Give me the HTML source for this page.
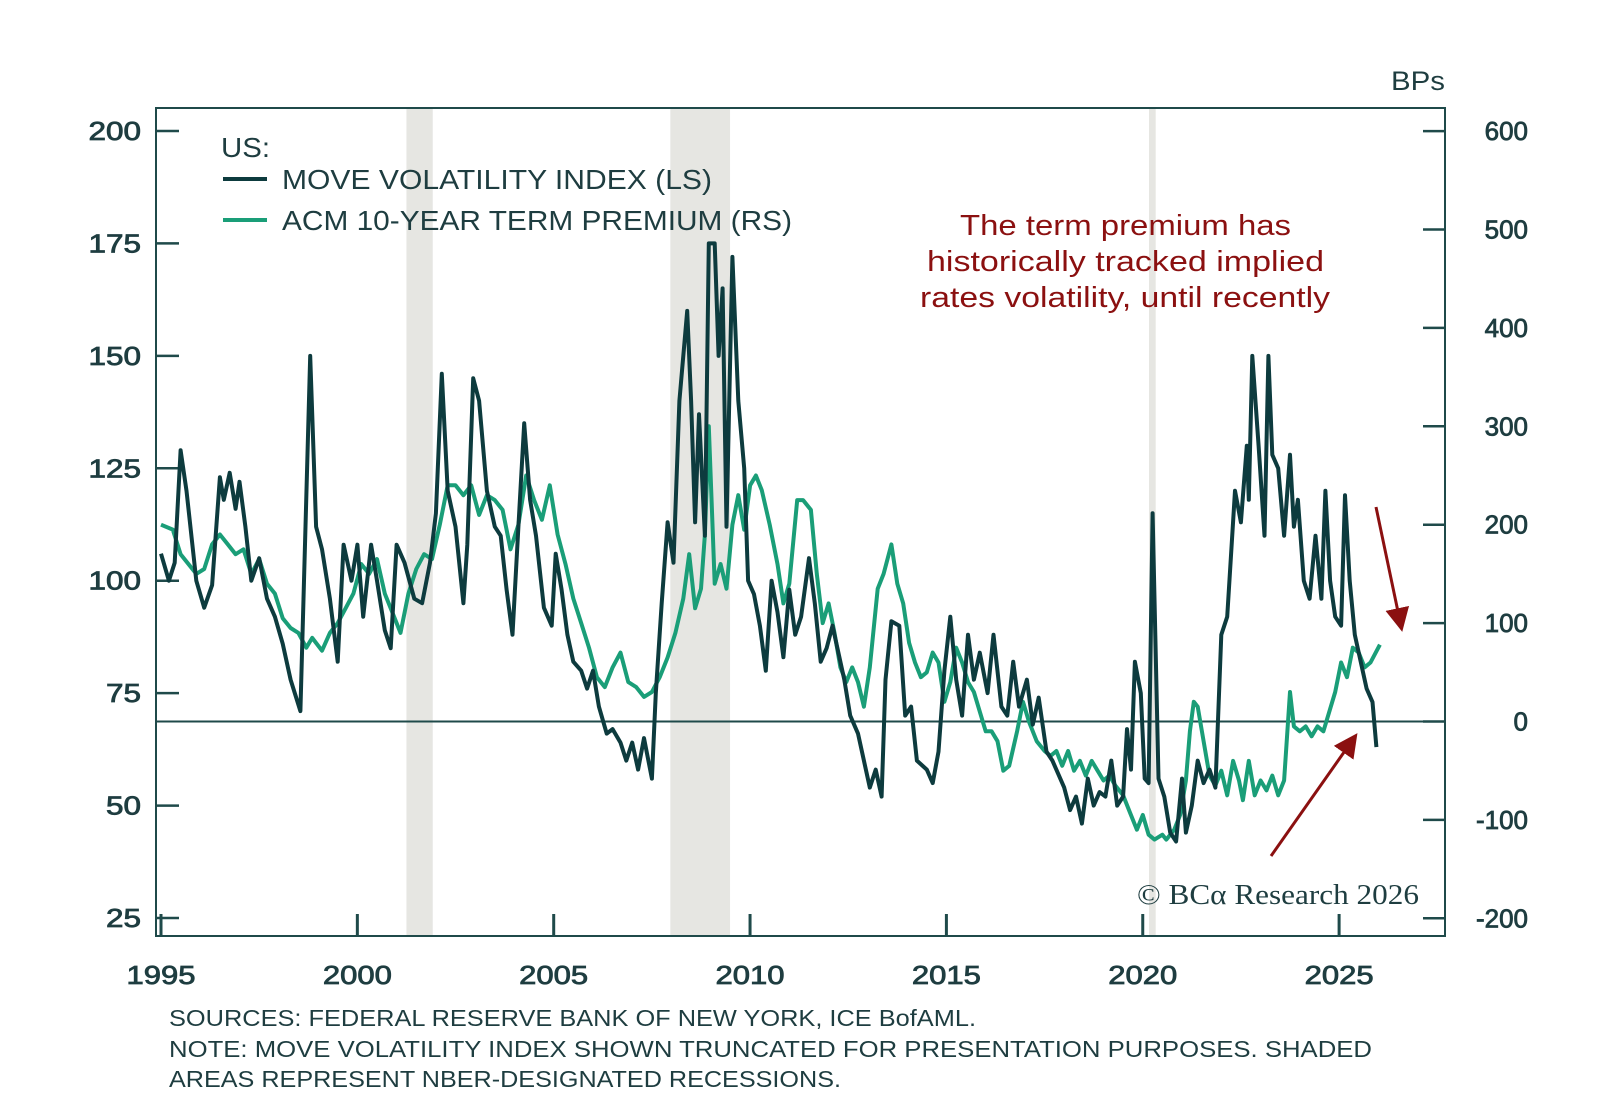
<!DOCTYPE html>
<html><head><meta charset="utf-8">
<style>
html,body{margin:0;padding:0;background:#fff;}
svg{display:block;font-family:"Liberation Sans",sans-serif;}
</style></head>
<body>
<svg id="chart" width="1600" height="1107" viewBox="0 0 1600 1107">
<g id="shade"></g>
<rect x="156" y="108" width="1289" height="828" fill="none" stroke="#1f4a4a" stroke-width="2"/>
<g id="axes"></g>
<g id="series"></g>
<text x="1391" y="90" font-size="27" fill="#1e3d40" textLength="54" lengthAdjust="spacingAndGlyphs">BPs</text>
<g font-size="28" fill="#1e3d40">
<text x="221" y="157" textLength="49" lengthAdjust="spacingAndGlyphs">US:</text>
<line x1="223" y1="179" x2="267" y2="179" stroke="#0d3b3e" stroke-width="4"/>
<text x="282" y="189" textLength="430" lengthAdjust="spacingAndGlyphs">MOVE VOLATILITY INDEX (LS)</text>
<line x1="223" y1="220" x2="267" y2="220" stroke="#1a9e78" stroke-width="4"/>
<text x="282" y="230" textLength="510" lengthAdjust="spacingAndGlyphs">ACM 10-YEAR TERM PREMIUM (RS)</text>
</g>
<g fill="#8b1010" font-size="29">
<text x="960" y="235" textLength="331" lengthAdjust="spacingAndGlyphs">The term premium has</text>
<text x="927" y="271" textLength="397" lengthAdjust="spacingAndGlyphs">historically tracked implied</text>
<text x="920" y="307" textLength="410" lengthAdjust="spacingAndGlyphs">rates volatility, until recently</text>
</g>
<defs><marker id="ah" markerWidth="8" markerHeight="8" refX="6" refY="4" orient="auto" markerUnits="strokeWidth"><path d="M0,0 L8,4 L0,8 z" fill="#8b1010"/></marker></defs>
<line x1="1376" y1="507" x2="1401" y2="626" stroke="#8b1010" stroke-width="3" marker-end="url(#ah)"/>
<line x1="1271" y1="856" x2="1354" y2="738" stroke="#8b1010" stroke-width="3" marker-end="url(#ah)"/>
<text x="1137" y="904" font-size="28" fill="#1e3d40" font-family="Liberation Serif, serif" textLength="282" lengthAdjust="spacingAndGlyphs">© BCα Research 2026</text>
<g font-size="23" fill="#1e3d40">
<text x="169" y="1026" textLength="807" lengthAdjust="spacingAndGlyphs">SOURCES: FEDERAL RESERVE BANK OF NEW YORK, ICE BofAML.</text>
<text x="169" y="1057" textLength="1203" lengthAdjust="spacingAndGlyphs">NOTE: MOVE VOLATILITY INDEX SHOWN TRUNCATED FOR PRESENTATION PURPOSES. SHADED</text>
<text x="169" y="1087" textLength="672" lengthAdjust="spacingAndGlyphs">AREAS REPRESENT NBER-DESIGNATED RECESSIONS.</text>
</g>
</svg>
<script>
const xTicks=[1995,2000,2005,2010,2015,2020,2025];
const leftTicks=[200,175,150,125,100,75,50,25];
const rightTicks=[600,500,400,300,200,100,0,-100,-200];
const recStart=[2001.25,2007.97,2020.16];
const recEnd=[2001.92,2009.49,2020.33];
const moveYears=[1995.0,1995.2,1995.35,1995.5,1995.65,1995.9,1996.1,1996.3,1996.5,1996.6,1996.75,1996.9,1997.0,1997.15,1997.3,1997.5,1997.7,1997.9,1998.1,1998.3,1998.55,1998.8,1998.95,1999.1,1999.3,1999.5,1999.65,1999.85,2000.0,2000.15,2000.35,2000.5,2000.7,2000.85,2001.0,2001.2,2001.45,2001.65,2001.85,2002.0,2002.15,2002.3,2002.5,2002.7,2002.8,2002.95,2003.1,2003.3,2003.5,2003.65,2003.8,2003.95,2004.1,2004.25,2004.4,2004.55,2004.75,2004.95,2005.05,2005.2,2005.35,2005.5,2005.7,2005.85,2006.0,2006.15,2006.35,2006.5,2006.7,2006.85,2007.0,2007.15,2007.3,2007.5,2007.6,2007.75,2007.9,2008.05,2008.2,2008.4,2008.5,2008.6,2008.7,2008.85,2008.95,2009.1,2009.2,2009.3,2009.4,2009.55,2009.7,2009.85,2009.95,2010.1,2010.25,2010.4,2010.55,2010.7,2010.85,2011.0,2011.15,2011.3,2011.5,2011.65,2011.8,2011.95,2012.1,2012.25,2012.4,2012.55,2012.75,2012.9,2013.05,2013.2,2013.35,2013.45,2013.6,2013.8,2013.95,2014.1,2014.25,2014.5,2014.65,2014.8,2014.95,2015.1,2015.25,2015.4,2015.55,2015.7,2015.85,2016.05,2016.2,2016.4,2016.55,2016.7,2016.85,2017.05,2017.2,2017.35,2017.55,2017.7,2017.85,2018.0,2018.15,2018.3,2018.45,2018.6,2018.75,2018.9,2019.05,2019.2,2019.35,2019.5,2019.6,2019.7,2019.8,2019.95,2020.05,2020.15,2020.25,2020.4,2020.55,2020.7,2020.85,2021.0,2021.1,2021.25,2021.4,2021.55,2021.7,2021.85,2022.0,2022.15,2022.35,2022.5,2022.65,2022.7,2022.79,2022.95,2023.1,2023.2,2023.3,2023.45,2023.6,2023.75,2023.85,2023.95,2024.1,2024.25,2024.4,2024.55,2024.65,2024.77,2024.9,2025.05,2025.15,2025.27,2025.4,2025.55,2025.7,2025.85,2025.95,2026.04];
const moveValues=[106,100,104,129,120,100,94,99,123,118,124,116,122,112,100,105,96,92,86,78,71,150,112,107,96,82,108,100,108,92,108,100,89,85,108,104,96,95,104,115,146,120,112,95,108,145,140,120,112,110,98,88,112,135,118,110,94,90,106,98,88,82,80,76,80,72,66,67,64,60,64,58,65,56,75,95,113,104,140,160,140,113,137,110,175,175,150,165,112,172,140,125,100,97,90,80,100,93,83,98,88,92,105,95,82,85,90,84,78,70,66,60,54,58,52,78,91,90,70,72,60,58,55,62,80,92,78,70,88,78,84,75,88,72,70,82,72,78,68,74,62,60,57,54,49,52,46,56,50,53,52,60,50,52,67,58,82,75,56,55,115,56,52,44,42,56,44,50,60,55,58,54,88,92,120,113,130,118,150,130,110,150,128,125,110,128,112,118,100,96,110,96,120,100,92,90,119,100,88,82,76,73,63];
const tpYears=[1995.0,1995.3,1995.5,1995.7,1995.9,1996.1,1996.3,1996.5,1996.7,1996.9,1997.1,1997.3,1997.5,1997.7,1997.9,1998.1,1998.3,1998.5,1998.7,1998.85,1999.1,1999.3,1999.5,1999.7,1999.9,2000.1,2000.3,2000.5,2000.7,2000.9,2001.1,2001.3,2001.5,2001.7,2001.9,2002.1,2002.3,2002.5,2002.7,2002.9,2003.1,2003.3,2003.5,2003.7,2003.9,2004.1,2004.3,2004.5,2004.7,2004.9,2005.1,2005.3,2005.5,2005.7,2005.9,2006.1,2006.3,2006.5,2006.7,2006.9,2007.1,2007.3,2007.5,2007.7,2007.9,2008.1,2008.3,2008.45,2008.6,2008.75,2008.85,2008.95,2009.1,2009.25,2009.4,2009.55,2009.7,2009.85,2010.0,2010.15,2010.3,2010.5,2010.7,2010.85,2011.0,2011.2,2011.35,2011.55,2011.7,2011.85,2012.0,2012.15,2012.3,2012.45,2012.6,2012.75,2012.9,2013.05,2013.25,2013.4,2013.6,2013.75,2013.9,2014.05,2014.2,2014.35,2014.5,2014.65,2014.8,2014.95,2015.1,2015.25,2015.4,2015.55,2015.7,2015.85,2016.0,2016.15,2016.3,2016.45,2016.6,2016.8,2016.95,2017.1,2017.3,2017.5,2017.65,2017.8,2017.95,2018.1,2018.25,2018.4,2018.55,2018.7,2018.85,2019.0,2019.15,2019.3,2019.5,2019.65,2019.85,2020.0,2020.15,2020.3,2020.5,2020.6,2020.8,2020.95,2021.1,2021.2,2021.3,2021.4,2021.55,2021.7,2021.85,2022.0,2022.15,2022.3,2022.45,2022.55,2022.7,2022.85,2023.0,2023.15,2023.3,2023.45,2023.6,2023.75,2023.85,2024.0,2024.15,2024.3,2024.45,2024.6,2024.75,2024.9,2025.05,2025.2,2025.35,2025.5,2025.65,2025.8,2026.04];
const tpValues=[200,195,170,160,150,155,180,190,180,170,175,150,165,140,130,105,95,90,75,85,72,90,100,115,130,160,150,165,130,110,90,130,155,170,165,200,240,240,230,240,210,230,225,215,175,200,250,225,205,240,190,160,125,100,75,45,35,55,70,40,35,25,30,45,65,90,125,170,115,135,190,300,140,160,135,200,230,195,240,250,235,200,160,120,140,225,225,215,150,100,120,90,55,40,55,40,15,55,135,150,180,140,120,80,60,45,50,70,60,20,40,75,60,40,30,10,-10,-10,-20,-50,-45,-10,20,0,-20,-30,-35,-30,-45,-30,-50,-40,-55,-40,-50,-60,-55,-65,-75,-90,-110,-95,-115,-120,-115,-120,-110,-95,-60,-10,20,15,-20,-55,-65,-50,-75,-40,-60,-80,-40,-75,-60,-70,-55,-75,-60,30,-5,-10,-5,-15,-5,-10,10,30,60,45,75,70,55,60,78];

const NS='http://www.w3.org/2000/svg';
function xs(y){return 161+39.27*(y-1995);}
function yL(v){return 131+(200-v)*(787/175);}
function yR(v){return 721.5-v*0.984;}
function mk(tag,attrs,parent){const e=document.createElementNS(NS,tag);for(const k in attrs)e.setAttribute(k,attrs[k]);parent.appendChild(e);return e;}
const shade=document.getElementById('shade');
recStart.forEach((s,i)=>{
  const r=mk('rect',{x:xs(s),y:109,width:xs(recEnd[i])-xs(s),height:826,fill:'#e6e6e2'},shade);
  
  
});
const axes=document.getElementById('axes');
const ac='#1f4a4a', tc='#1e3d40';
leftTicks.forEach(v=>{
  const y=yL(v);
  const l=mk('line',{x1:156,y1:y,x2:179,y2:y,stroke:ac,'stroke-width':2.5},axes);
  
  
  const t=mk('text',{x:141,y:y+9,'text-anchor':'end','font-size':26,stroke:tc,'stroke-width':0.8,fill:tc,textLength:String(v).length*17.5,lengthAdjust:'spacingAndGlyphs'},axes);
  t.textContent=v;
  
  
});
rightTicks.forEach(v=>{
  const y=yR(v);
  const l=mk('line',{x1:1423,y1:y,x2:1445,y2:y,stroke:ac,'stroke-width':2.5},axes);
  
  
  const t=mk('text',{x:1528,y:y+9,'text-anchor':'end','font-size':26,stroke:tc,'stroke-width':0.8,fill:tc},axes);
  t.textContent=v;
  
  
});
xTicks.forEach(v=>{
  const x=xs(v);
  const l=mk('line',{x1:x,y1:914,x2:x,y2:936,stroke:ac,'stroke-width':3},axes);
  
  
  const t=mk('text',{x:x,y:984,'text-anchor':'middle','font-size':26,stroke:tc,'stroke-width':0.8,fill:tc,textLength:69,lengthAdjust:'spacingAndGlyphs'},axes);
  t.textContent=v;
  
  
});
const zl=mk('line',{x1:156,y1:yR(0),x2:1445,y2:yR(0),stroke:ac,'stroke-width':2},axes);


const ser=document.getElementById('series');
const tp=mk('polyline',{points:tpYears.map((y,i)=>xs(y).toFixed(1)+','+yR(tpValues[i]).toFixed(1)).join(' '),fill:'none',stroke:'#1a9e78','stroke-width':4,'stroke-linejoin':'round'},ser);


const mv=mk('polyline',{points:moveYears.map((y,i)=>xs(y).toFixed(1)+','+yL(moveValues[i]).toFixed(1)).join(' '),fill:'none',stroke:'#0d3b3e','stroke-width':4,'stroke-linejoin':'round'},ser);


</script>
</body></html>
